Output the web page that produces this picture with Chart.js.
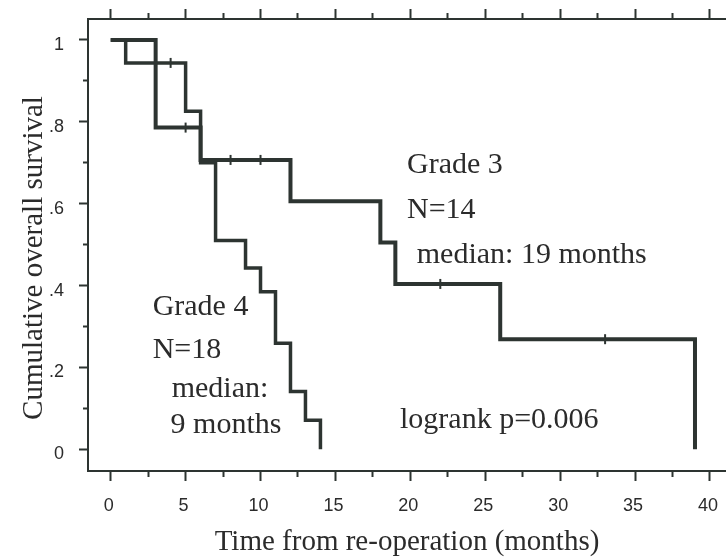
<!DOCTYPE html>
<html>
<head>
<meta charset="utf-8">
<script src="https://cdn.jsdelivr.net/npm/chart.js@4.4.1/dist/chart.umd.min.js"></script>
<style>
  html, body { margin: 0; padding: 0; background: #ffffff; }
  #wrap { width: 726px; height: 557px; }
</style>
</head>
<body>
<div id="wrap"><canvas id="km" width="726" height="557"></canvas></div>
<script>
// Kaplan-Meier steps (time in months, survival)
const grade3Times = [0, 3, 6, 12, 18, 19, 26, 39];
const grade3Surv = [1, 0.786, 0.707, 0.606, 0.505, 0.404, 0.269, 0];
const grade3CensorTimes = [5, 8, 10, 22, 33];
const grade3CensorSurv = [0.786, 0.707, 0.707, 0.404, 0.269];

const grade4Times = [0, 1, 5, 6, 7, 9, 10, 11, 12, 13, 14];
const grade4Surv = [1, 0.944, 0.826, 0.70, 0.51, 0.443, 0.385, 0.259, 0.141, 0.071, 0];
const grade4CensorTimes = [4];
const grade4CensorSurv = [0.944];

// tick values
const xMajorTicks = [0, 5, 10, 15, 20, 25, 30, 35, 40];
const xMinorTicks = [2.5, 7.5, 12.5, 17.5, 22.5, 27.5, 32.5, 37.5];
const yMajorTicks = [0, 0.2, 0.4, 0.6, 0.8, 1];
const yMinorTicks = [0.1, 0.3, 0.5, 0.7, 0.9];
const yTickLabels = ['0', '.2', '.4', '.6', '.8', '1'];

// text on the plot (data coordinates of the text baseline start)
const noteTexts = ['Grade 3', 'N=14', 'median: 19 months', 'Grade 4', 'N=18', 'median:', '9 months', 'logrank p=0.006'];
const noteX = [19.78, 19.78, 20.43, 2.8, 2.8, 4.07, 4.0, 19.31];
const noteY = [0.674, 0.564, 0.454, 0.328, 0.222, 0.1285, 0.0406, 0.0513];

const yTitle = 'Cumulative overall survival';

const ink = '#2d3431';
const textInk = '#2b2b2b';
const X_MIN = -1.515, X_MAX = 41.07;
const Y_MIN = -0.053, Y_MAX = 1.0513;

const toPoints = (xs, ys) => xs.map((x, i) => ({ x: x, y: ys[i] }));
const setTicks = vals => scale => { scale.ticks = vals.map(v => ({ value: v })); };

const notesPlugin = {
  id: 'notes',
  afterDatasetsDraw(chart) {
    const ctx = chart.ctx;
    const xs = chart.scales.x, ys = chart.scales.y;
    ctx.save();
    ctx.fillStyle = textInk;
    ctx.font = '30px "Liberation Serif", "Times New Roman", serif';
    ctx.textAlign = 'left';
    ctx.textBaseline = 'alphabetic';
    noteTexts.forEach((t, i) => {
      ctx.fillText(t, xs.getPixelForValue(noteX[i]), ys.getPixelForValue(noteY[i]));
    });
    // y axis title, rotated
    ctx.font = '29px "Liberation Serif", "Times New Roman", serif';
    ctx.translate(42, 258);
    ctx.rotate(-Math.PI / 2);
    ctx.textAlign = 'center';
    ctx.fillText(yTitle, 0, 0);
    ctx.restore();
  }
};

function minorAxis(position, vals, len, isX) {
  return {
    type: 'linear',
    position: position,
    weight: 0,
    min: isX ? X_MIN : Y_MIN,
    max: isX ? X_MAX : Y_MAX,
    afterBuildTicks: setTicks(vals),
    afterFit: s => {
      if (isX) s.height = 0; else s.width = 0;
      s.paddingLeft = s.paddingRight = s.paddingTop = s.paddingBottom = 0;
    },
    grid: { drawOnChartArea: false, drawTicks: true, tickLength: len, tickWidth: 2, tickColor: ink },
    border: { display: false },
    ticks: { display: true, callback: () => '', padding: 0 }
  };
}

const noPad = s => { s.paddingLeft = s.paddingRight = s.paddingTop = s.paddingBottom = 0; };

new Chart(document.getElementById('km'), {
  type: 'scatter',
  data: {
    datasets: [
      {
        label: 'Grade 3',
        data: toPoints(grade3Times, grade3Surv),
        showLine: true,
        stepped: 'before',
        borderColor: ink,
        borderWidth: 4,
        pointRadius: 0,
        fill: false
      },
      {
        label: 'Grade 4',
        data: toPoints(grade4Times, grade4Surv),
        showLine: true,
        stepped: 'before',
        borderColor: ink,
        borderWidth: 3.5,
        pointRadius: 0,
        fill: false
      },
      {
        label: 'Grade 3 censored',
        data: toPoints(grade3CensorTimes, grade3CensorSurv),
        pointStyle: 'line',
        rotation: 90,
        pointRadius: 5,
        borderColor: ink,
        borderWidth: 2,
        showLine: false
      },
      {
        label: 'Grade 4 censored',
        data: toPoints(grade4CensorTimes, grade4CensorSurv),
        pointStyle: 'line',
        rotation: 90,
        pointRadius: 5,
        borderColor: ink,
        borderWidth: 2,
        showLine: false
      }
    ]
  },
  options: {
    responsive: false,
    animation: false,
    devicePixelRatio: 1,
    layout: { padding: 0, autoPadding: false },
    plugins: { legend: { display: false }, tooltip: { enabled: false } },
    scales: {
      x: {
        type: 'linear',
        position: 'bottom',
        weight: 1,
        min: X_MIN,
        max: X_MAX,
        afterBuildTicks: setTicks(xMajorTicks),
        afterFit: s => { s.height = 86; noPad(s); },
        grid: { drawOnChartArea: false, drawTicks: true, tickLength: 10, tickWidth: 2, tickColor: ink },
        border: { display: true, color: ink, width: 2 },
        ticks: {
          color: textInk,
          font: { family: '"Liberation Sans", Arial, sans-serif', size: 18 },
          padding: 14,
          labelOffset: -2,
          maxRotation: 0,
          autoSkip: false,
          callback: v => String(v)
        },
        title: {
          display: true,
          text: 'Time from re-operation (months)',
          color: textInk,
          font: { family: '"Liberation Serif", "Times New Roman", serif', size: 29, lineHeight: 1 },
          padding: { top: 0, bottom: 0 }
        }
      },
      xMinor: minorAxis('bottom', xMinorTicks, 6, true),
      xTop: {
        type: 'linear',
        position: 'top',
        weight: 1,
        min: X_MIN,
        max: X_MAX,
        afterBuildTicks: setTicks(xMajorTicks),
        afterFit: s => { s.height = 19; noPad(s); },
        grid: { drawOnChartArea: false, drawTicks: true, tickLength: 10, tickWidth: 2, tickColor: ink },
        border: { display: true, color: ink, width: 2 },
        ticks: { callback: () => '', padding: 0 }
      },
      xTopMinor: minorAxis('top', xMinorTicks, 6, true),
      y: {
        type: 'linear',
        position: 'left',
        weight: 1,
        min: Y_MIN,
        max: Y_MAX,
        afterBuildTicks: setTicks(yMajorTicks),
        afterFit: s => { s.width = 88; noPad(s); },
        grid: { drawOnChartArea: false, drawTicks: true, tickLength: 9, tickWidth: 2, tickColor: ink },
        border: { display: true, color: ink, width: 2 },
        ticks: {
          color: textInk,
          font: { family: '"Liberation Sans", Arial, sans-serif', size: 18 },
          padding: 15,
          labelOffset: 5,
          autoSkip: false,
          callback: v => yTickLabels[yMajorTicks.findIndex(t => Math.abs(t - v) < 1e-6)]
        },
        title: { display: false }
      },
      yMinor: minorAxis('left', yMinorTicks, 5, false)
    }
  },
  plugins: [notesPlugin]
});
</script>
</body>
</html>
